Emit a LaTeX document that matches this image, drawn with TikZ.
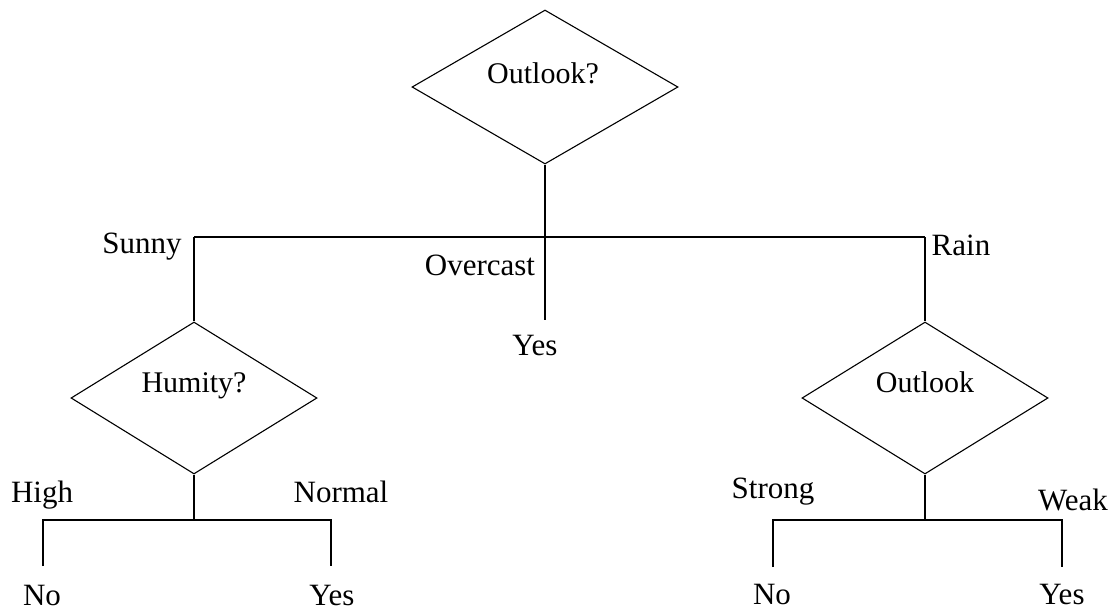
\documentclass[tikz,border=0pt]{standalone}
\usepackage{fontspec}
\setmainfont{Liberation Serif}
\usetikzlibrary{shapes.geometric}

\begin{document}
\begin{tikzpicture}[x=1pt, y=-1pt,
    test/.style={draw, diamond, inner sep=0, line width=1.1pt,
      minimum width=246pt, minimum height=152pt},
    question/.style={anchor=base, inner sep=0,
      font=\fontsize{30}{34}\selectfont},
    branch/.style={anchor=base, inner sep=0,
      font=\fontsize{31}{36}\selectfont},
    edge/.style={line width=1.5pt}]
  \useasboundingbox (0,0) rectangle (1116,611);
  % tests
  \node[test, minimum width=266pt, minimum height=154pt] (outlook) at (545,87) {};
  \node[question] (outlookq) at (543,83) {Outlook?};
  \node[test] (humity) at (194,398) {};
  \node[question] (humityq) at (194,392) {Humity?};
  \node[test] (wind) at (925,398) {};
  \node[question] (windq) at (925,392) {Outlook};
  % joints
  \coordinate (sunnyc) at (194,237);
  \coordinate (rainc) at (925,237);
  \coordinate (overc) at (545,320);
  \coordinate (humj) at (194,520);
  \coordinate (hno) at (43,566);
  \coordinate (hyes) at (331,566);
  \coordinate (windj) at (925,520);
  \coordinate (wno) at (773,567);
  \coordinate (wyes) at (1062,567);
  % branches
  \draw[edge] (outlook.south) -- (overc);
  \draw[edge] (sunnyc) -- (rainc);
  \draw[edge] (sunnyc) -- (humity.north);
  \draw[edge] (rainc) -- (wind.north);
  \draw[edge] (humity.south) -- (humj);
  \draw[edge] (hno) |- (humj) -| (hyes);
  \draw[edge] (wind.south) -- (windj);
  \draw[edge] (wno) |- (windj) -| (wyes);
  % labels
  \node[branch] (sunny) at (142,253) {Sunny};
  \node[branch] (overcast) at (480,275) {Overcast};
  \node[branch] (yes1) at (535,355) {Yes};
  \node[branch] (rain) at (961,255) {Rain};
  \node[branch] (high) at (42,502) {High};
  \node[branch] (normal) at (341,502) {Normal};
  \node[branch] (no1) at (42,605) {No};
  \node[branch] (yes2) at (332,605) {Yes};
  \node[branch] (strong) at (773,498) {Strong};
  \node[branch] (weak) at (1073,510) {Weak};
  \node[branch] (no2) at (772,604) {No};
  \node[branch] (yes3) at (1062,604) {Yes};
\end{tikzpicture}
\end{document}
